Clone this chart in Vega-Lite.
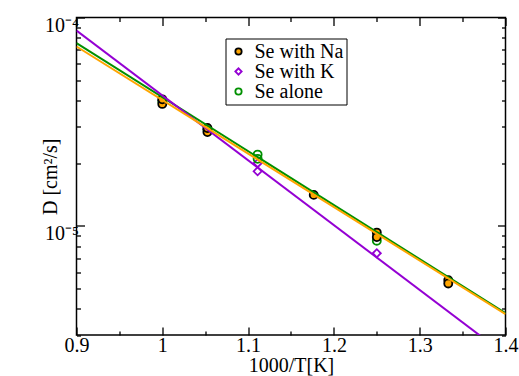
{
  "$schema": "https://vega.github.io/schema/vega-lite/v6.json",
  "width": 429,
  "height": 317.5,
  "autosize": "none",
  "padding": {"left": 76.5, "top": 17.5, "right": 13.5, "bottom": 41},
  "background": "white",
  "datasets": {
    "points": [
      {"series": "Se with K", "invT": 1.0, "D": 4.0e-5},
      {"series": "Se with K", "invT": 1.0526, "D": 2.9e-5},
      {"series": "Se with K", "invT": 1.1111, "D": 2.0e-5},
      {"series": "Se with K", "invT": 1.1111, "D": 1.83e-5},
      {"series": "Se with K", "invT": 1.25, "D": 7.4e-6},
      {"series": "Se alone", "invT": 1.0, "D": 3.95e-5},
      {"series": "Se alone", "invT": 1.0526, "D": 2.9e-5},
      {"series": "Se alone", "invT": 1.1111, "D": 2.2e-5},
      {"series": "Se alone", "invT": 1.1111, "D": 2.1e-5},
      {"series": "Se alone", "invT": 1.25, "D": 8.5e-6},
      {"series": "Se with Na", "invT": 1.0, "D": 3.85e-5},
      {"series": "Se with Na", "invT": 1.0, "D": 4.05e-5},
      {"series": "Se with Na", "invT": 1.0526, "D": 2.82e-5},
      {"series": "Se with Na", "invT": 1.0526, "D": 2.95e-5},
      {"series": "Se with Na", "invT": 1.1765, "D": 1.41e-5},
      {"series": "Se with Na", "invT": 1.25, "D": 9.3e-6},
      {"series": "Se with Na", "invT": 1.25, "D": 8.85e-6},
      {"series": "Se with Na", "invT": 1.3333, "D": 5.5e-6},
      {"series": "Se with Na", "invT": 1.3333, "D": 5.3e-6}
    ],
    "fits": [
      {"series": "Se alone", "invT": 0.9, "D": 7.54e-5},
      {"series": "Se alone", "invT": 1.4, "D": 3.82e-6},
      {"series": "Se with K", "invT": 0.9, "D": 8.66e-5},
      {"series": "Se with K", "invT": 1.4, "D": 2.41e-6},
      {"series": "Se with Na", "invT": 0.9, "D": 7.26e-5},
      {"series": "Se with Na", "invT": 1.4, "D": 3.78e-6}
    ]
  },
  "layer": [
    {
      "data": {"name": "points"},
      "mark": {"type": "point", "filled": true, "opacity": 1, "size": 65, "strokeWidth": 1.8},
      "encoding": {
        "x": {
          "field": "invT", "type": "quantitative",
          "scale": {"domain": [0.9, 1.4], "nice": false, "zero": false},
          "axis": {
            "orient": "bottom",
            "values": [0.9, 1.0, 1.1, 1.2, 1.3, 1.4],
            "format": "~g",
            "tickSize": -8,
            "labelPadding": 8,
            "title": "1000/T[K]",
            "titlePadding": 0
          }
        },
        "y": {
          "field": "D", "type": "quantitative",
          "scale": {"type": "log", "domain": [3e-6, 1e-4], "nice": false},
          "axis": {
            "orient": "left",
            "values": [1e-5, 1e-4],
            "labelExpr": "datum.value > 5e-5 ? '10⁻⁴' : '10⁻⁵'",
            "tickSize": -8,
            "labelPadding": 6,
            "labelOffset": 8,
            "title": "D [cm²/s]",
            "titlePadding": -16
          }
        },
        "shape": {
          "field": "series", "type": "nominal",
          "scale": {"domain": ["Se with Na", "Se with K", "Se alone"], "range": ["circle", "diamond", "circle"]},
          "legend": {
            "title": null, "orient": "none", "legendX": 149, "legendY": 21,
            "strokeColor": "black", "fillColor": "white", "padding": 3,
            "labelFont": "Liberation Serif", "labelFontSize": 20, "labelColor": "black",
            "labelOffset": 6, "symbolSize": 40, "symbolStrokeWidth": 1.8, "rowPadding": 0
          }
        },
        "fill": {
          "field": "series", "type": "nominal",
          "scale": {"domain": ["Se with Na", "Se with K", "Se alone"], "range": ["#ffa500", "transparent", "transparent"]},
          "legend": {
            "title": null, "orient": "none", "legendX": 149, "legendY": 21,
            "strokeColor": "black", "fillColor": "white", "padding": 3,
            "labelFont": "Liberation Serif", "labelFontSize": 20, "labelColor": "black",
            "labelOffset": 6, "symbolSize": 40, "symbolStrokeWidth": 1.8, "rowPadding": 0
          }
        },
        "stroke": {
          "field": "series", "type": "nominal",
          "scale": {"domain": ["Se with Na", "Se with K", "Se alone"], "range": ["#000000", "#9400d3", "#009000"]},
          "legend": {
            "title": null, "orient": "none", "legendX": 149, "legendY": 21,
            "strokeColor": "black", "fillColor": "white", "padding": 3,
            "labelFont": "Liberation Serif", "labelFontSize": 20, "labelColor": "black",
            "labelOffset": 6, "symbolSize": 40, "symbolStrokeWidth": 1.8, "rowPadding": 0
          }
        }
      }
    },
    {
      "data": {"name": "fits"},
      "mark": {"type": "line", "strokeWidth": 2, "clip": true},
      "encoding": {
        "x": {
          "field": "invT", "type": "quantitative",
          "scale": {"domain": [0.9, 1.4], "nice": false, "zero": false},
          "axis": {"orient": "top", "values": [0.9, 1.0, 1.1, 1.2, 1.3, 1.4], "tickSize": -8, "labels": false, "title": null}
        },
        "y": {
          "field": "D", "type": "quantitative",
          "scale": {"type": "log", "domain": [3e-6, 1e-4], "nice": false},
          "axis": {"orient": "right", "values": [1e-5, 1e-4], "tickSize": -8, "labels": false, "title": null}
        },
        "color": {
          "field": "series", "type": "nominal",
          "scale": {"domain": ["Se with Na", "Se with K", "Se alone"], "range": ["#ffa500", "#9400d3", "#009000"]},
          "legend": null
        }
      }
    },
    {
      "data": {"name": "fits"},
      "mark": {"type": "line", "strokeOpacity": 0, "clip": true},
      "encoding": {
        "x": {
          "field": "invT", "type": "quantitative",
          "scale": {"domain": [0.9, 1.4], "nice": false, "zero": false},
          "axis": {"orient": "bottom", "values": [0.95, 1.05, 1.15, 1.25, 1.35], "tickSize": -4, "labels": false, "title": null}
        },
        "y": {
          "field": "D", "type": "quantitative",
          "scale": {"type": "log", "domain": [3e-6, 1e-4], "nice": false},
          "axis": {"orient": "left", "values": [3e-6, 4e-6, 5e-6, 6e-6, 7e-6, 8e-6, 9e-6, 2e-5, 3e-5, 4e-5, 5e-5, 6e-5, 7e-5, 8e-5, 9e-5], "tickSize": -4, "labels": false, "title": null}
        },
        "detail": {"field": "series"}
      }
    },
    {
      "data": {"name": "fits"},
      "mark": {"type": "line", "strokeOpacity": 0, "clip": true},
      "encoding": {
        "x": {
          "field": "invT", "type": "quantitative",
          "scale": {"domain": [0.9, 1.4], "nice": false, "zero": false},
          "axis": {"orient": "top", "values": [0.95, 1.05, 1.15, 1.25, 1.35], "tickSize": -4, "labels": false, "title": null}
        },
        "y": {
          "field": "D", "type": "quantitative",
          "scale": {"type": "log", "domain": [3e-6, 1e-4], "nice": false},
          "axis": {"orient": "right", "values": [3e-6, 4e-6, 5e-6, 6e-6, 7e-6, 8e-6, 9e-6, 2e-5, 3e-5, 4e-5, 5e-5, 6e-5, 7e-5, 8e-5, 9e-5], "tickSize": -4, "labels": false, "title": null}
        },
        "detail": {"field": "series"}
      }
    }
  ],
  "resolve": {"axis": {"x": "independent", "y": "independent"}},
  "config": {
    "font": "Liberation Serif",
    "view": {"stroke": "black", "strokeWidth": 1.5},
    "axis": {
      "grid": false,
      "domain": false,
      "tickColor": "black",
      "tickWidth": 1.3,
      "labelFont": "Liberation Serif",
      "labelFontSize": 20,
      "labelColor": "black",
      "labelFlush": false,
      "labelOverlap": false,
      "labelBound": false,
      "titleFont": "Liberation Serif",
      "titleFontSize": 20,
      "titleFontWeight": "normal",
      "titleColor": "black"
    },
    "legend": {
      "labelFont": "Liberation Serif",
      "labelFontSize": 20,
      "labelColor": "black"
    }
  }
}
